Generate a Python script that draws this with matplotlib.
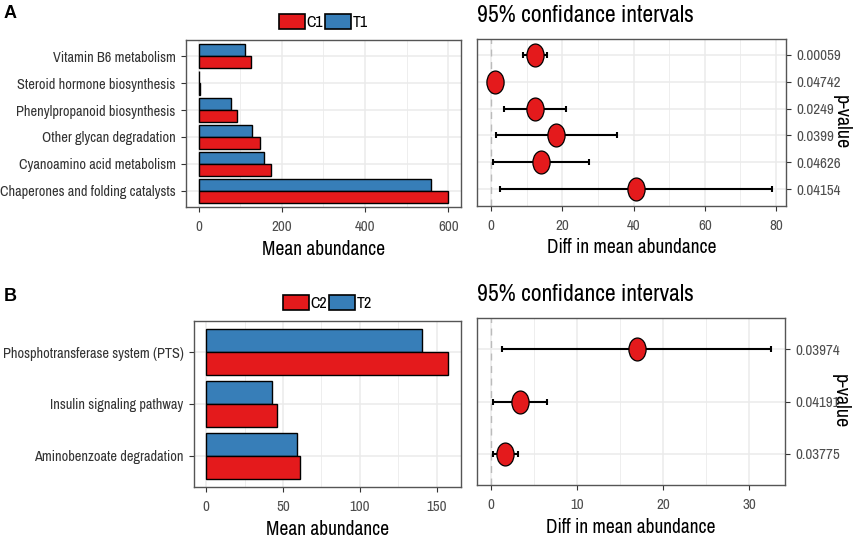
import matplotlib
matplotlib.use("Agg")
import matplotlib.pyplot as plt
import numpy as np
from matplotlib import font_manager
from matplotlib.path import Path
from matplotlib.patches import Patch
from matplotlib.ticker import MultipleLocator

# narrow sans like the reference (first one that is installed)
wanted = ['Liberation Sans Narrow', 'Arial Narrow', 'Nimbus Sans Narrow', 'Archivo Narrow',
          'Roboto Condensed', 'PT Sans Narrow', 'Fira Sans Condensed', 'IBM Plex Sans Condensed',
          'Encode Sans Condensed', 'Asap Condensed', 'Barlow Semi Condensed', 'Open Sans Condensed']
have = {f.name for f in font_manager.fontManager.ttflist}
narrow = next((n for n in wanted if n in have), 'DejaVu Sans')
plt.rcParams['font.family'] = [narrow, 'DejaVu Sans']

RED = '#E41A1C'
BLUE = '#377EB8'
GRID = '#EBEBEB'
TXT = '#4D4D4D'

# Panel A data
cats_a = ['Vitamin B6 metabolism', 'Steroid hormone biosynthesis', 'Phenylpropanoid biosynthesis',
          'Other glycan degradation', 'Cyanoamino acid metabolism', 'Chaperones and folding catalysts']
c1 = [126, 3, 92, 147, 173, 598]
t1 = [112, 2, 79, 129, 158, 558]
diff_a = [12.2, 1.2, 12.3, 18.3, 13.9, 40.7]
low_a = [8.8, 0.1, 3.6, 1.3, 0.4, 2.5]
high_a = [15.8, 2.5, 21.1, 35.3, 27.5, 78.9]
pval_a = ['0.00059', '0.04742', '0.0249', '0.0399', '0.04626', '0.04154']

# Panel B data
cats_b = ['Phosphotransferase system (PTS)', 'Insulin signaling pathway', 'Aminobenzoate degradation']
c2 = [157.7, 46.1, 61.0]
t2 = [140.5, 42.7, 59.3]
diff_b = [17.0, 3.3, 1.6]
low_b = [1.3, 0.2, 0.15]
high_b = [32.6, 6.5, 3.1]
pval_b = ['0.03974', '0.04191', '0.03775']

# ellipse marker (taller than wide, as in the reference)
circ = Path.unit_circle()
ellipse = Path(circ.vertices * np.array([0.75, 1.0]), circ.codes)

fig = plt.figure(figsize=(8.54, 5.38), dpi=100)


def style(ax, major, minor):
    ax.set_facecolor('white')
    ax.xaxis.set_major_locator(MultipleLocator(major))
    ax.xaxis.set_minor_locator(MultipleLocator(minor))
    ax.grid(True, which='major', color=GRID, lw=1.1, zorder=0)
    ax.grid(True, which='minor', axis='x', color=GRID, lw=0.6, zorder=0)
    ax.set_axisbelow(True)
    for s in ax.spines.values():
        s.set_color('#555555')
        s.set_linewidth(1.0)
    ax.tick_params(which='major', length=3.5, color='#333333', labelcolor=TXT, labelsize=10.8, pad=6)
    ax.tick_params(which='minor', length=0)


def bars(ax, cats, ctrl, trt, labels, xlim, major, minor):
    y = np.arange(len(cats))
    h = 0.45
    ax.barh(y - h / 2, trt, height=h, color=BLUE, edgecolor='black', lw=1.0, zorder=3)
    ax.barh(y + h / 2, ctrl, height=h, color=RED, edgecolor='black', lw=1.0, zorder=3)
    ax.set_yticks(y)
    ax.set_yticklabels(cats)
    ax.set_ylim(len(cats) - 0.4, -0.6)
    ax.set_xlim(*xlim)
    style(ax, major, minor)
    ax.tick_params(axis='y', labelsize=10.3, labelcolor='#333333', pad=4)
    ax.set_xlabel('Mean abundance', fontsize=14, color='black', labelpad=4)
    handles = [Patch(facecolor=RED, edgecolor='black', lw=1.2, label=labels[0]),
               Patch(facecolor=BLUE, edgecolor='black', lw=1.2, label=labels[1])]
    ax.legend(handles=handles, loc='lower center', bbox_to_anchor=(0.5, 1.06), ncol=2, frameon=False,
              fontsize=11.5, handlelength=1.6, handleheight=1.0, handletextpad=0.1,
              columnspacing=0.15, borderpad=0, borderaxespad=0)


def ci(ax, diff, low, high, pvals, xlim, major, minor):
    y = np.arange(len(diff))
    d = np.array(diff)
    err = [d - np.array(low), np.array(high) - d]
    ax.axvline(0, color='#BBBBBB', lw=1.0, ls=(0, (5, 4)), zorder=1)
    ax.errorbar(d, y, xerr=err, fmt='none', ecolor='black', elinewidth=1.5, capsize=2.5,
                capthick=1.5, zorder=3)
    ax.plot(d, y, ls='none', marker=ellipse, ms=16.5, mfc=RED, mec='black', mew=0.9, zorder=4)
    ax.set_ylim(len(diff) - 0.4, -0.6)
    ax.set_xlim(*xlim)
    ax.set_yticks(y)
    ax.yaxis.tick_right()
    ax.set_yticklabels(pvals)
    style(ax, major, minor)
    ax.tick_params(axis='y', pad=4)
    ax.yaxis.set_label_position('right')
    ax.set_ylabel('p-value', fontsize=14.5, rotation=270, color='black', va='center', ha='center')
    ax.yaxis.set_label_coords(1.178, 0.5)
    ax.set_xlabel('Diff in mean abundance', fontsize=14, color='black', labelpad=4)
    ax.set_title('95% confidance intervals', fontsize=17, loc='left', pad=12, x=0.0)


ax1 = fig.add_axes([0.2178, 0.6152, 0.322, 0.3104])
bars(ax1, cats_a, c1, t1, ['C1', 'T1'], (-30, 630), 200, 100)
ax2 = fig.add_axes([0.5585, 0.6180, 0.3618, 0.3104])
ci(ax2, diff_a, low_a, high_a, pval_a, (-4.0, 82.8), 20, 10)

ax3 = fig.add_axes([0.2272, 0.0948, 0.3126, 0.3086])
bars(ax3, cats_b, c2, t2, ['C2', 'T2'], (-7.9, 165.9), 50, 25)
ax4 = fig.add_axes([0.5585, 0.0985, 0.3607, 0.3104])
ci(ax4, diff_b, low_b, high_b, pval_b, (-1.66, 34.2), 10, 5)

fig.text(0.004, 0.975, 'A', fontsize=13, fontweight='bold', family='Liberation Sans', va='center')
fig.text(0.004, 0.448, 'B', fontsize=13, fontweight='bold', family='Liberation Sans', va='center')

fig.savefig('out.png', dpi=100, facecolor='white')
